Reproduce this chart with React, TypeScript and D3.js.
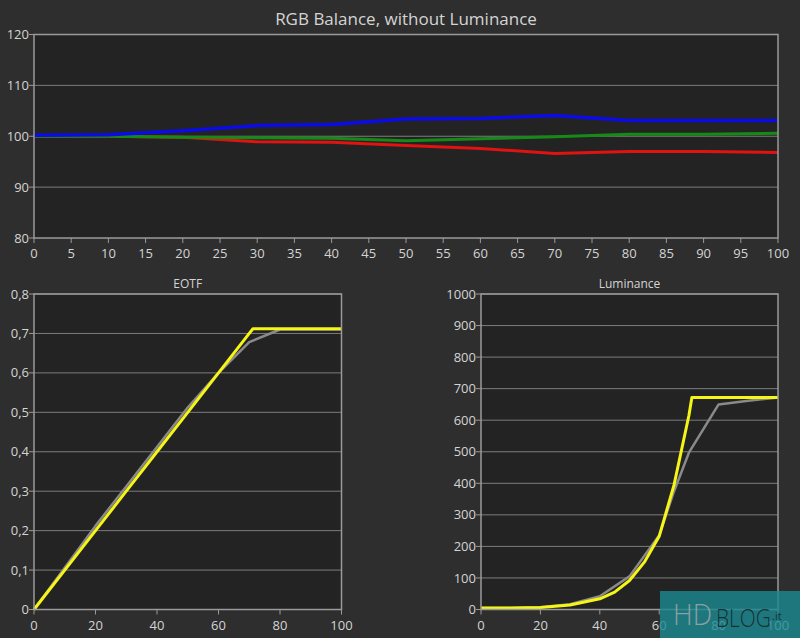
import * as d3 from 'd3'

// RGB balance (input %, value)
const rgbX = [0, 10, 20, 30, 40, 50, 60, 70, 80, 90, 100]
const redVals = [100, 100, 99.8, 98.9, 98.8, 98.2, 97.6, 96.6, 97.0, 97.0, 96.8]
const greenVals = [100, 100, 99.8, 99.7, 99.6, 99.1, 99.5, 99.9, 100.4, 100.4, 100.6]
const blueVals = [100.2, 100.3, 101.1, 102.1, 102.3, 103.4, 103.5, 104.1, 103.1, 103.1, 103.1]

// EOTF
const eotfTargetX = [0, 10, 20, 30, 40, 50, 60, 70, 71.2, 80, 90, 100]
const eotfTargetY = [0, 0.1, 0.2, 0.3, 0.4, 0.5, 0.6, 0.7, 0.712, 0.712, 0.712, 0.712]
const eotfMeasX = [0, 10, 20, 30, 40, 50, 60, 70, 80, 90, 100]
const eotfMeasY = [0, 0.106, 0.212, 0.312, 0.412, 0.512, 0.6, 0.678, 0.71, 0.71, 0.71]

// Luminance (nits)
const lumTargetX = [0, 10, 20, 30, 40, 45, 50, 55, 60, 65, 70, 71, 80, 90, 100]
const lumTargetY = [5, 5, 6, 14, 34, 55, 92, 150, 232, 395, 615, 672, 672, 672, 672]
const lumMeasX = [0, 10, 20, 30, 40, 50, 60, 65, 70, 80, 90, 100]
const lumMeasY = [5, 5, 7, 17, 42, 105, 235, 375, 497, 650, 662, 672]

const topXTicks = d3.range(0, 101, 5)
const topYTicks = [80, 90, 100, 110, 120]
const eotfYTicks = [0, 0.1, 0.2, 0.3, 0.4, 0.5, 0.6, 0.7, 0.8]
const lumYTicks = d3.range(0, 1001, 100)
const lowXTicks = [0, 20, 40, 60, 80, 100]

const FONT = '"Open Sans", "Noto Sans", sans-serif'
const TEXT = '#d4d4d4'
const GRID = '#7c7c7c'
const FRAME = '#9a9a9a'
const PLOT_BG = '#232323'

type Pt = [number, number]
const zip = (xs: number[], ys: number[]): Pt[] => xs.map((x, i) => [x, ys[i]])

function Panel({
  left, right, top, bottom, xTicks, yTicks, yDomain, yFormat, tickSize, series, title, titleY, titleSize, xLabelY,
}: {
  left: number; right: number; top: number; bottom: number
  xTicks: number[]; yTicks: number[]; yDomain: [number, number]
  yFormat: (v: number) => string; tickSize: number
  series: { pts: Pt[]; color: string; width: number }[]
  title: string; titleY: number; titleSize: number; xLabelY: number
}) {
  const x = d3.scaleLinear().domain([0, 100]).range([left, right])
  const y = d3.scaleLinear().domain(yDomain).range([bottom, top])
  const line = d3.line<Pt>().x((d) => x(d[0])).y((d) => y(d[1]))
  return (
    <g fontFamily={FONT}>
      <rect x={left} y={top} width={right - left} height={bottom - top} fill={PLOT_BG} />
      {yTicks.map((t) => (
        <g key={'y' + t}>
          {t !== yDomain[0] && (
            <line x1={left} x2={right} y1={y(t)} y2={y(t)} stroke={GRID} strokeWidth={1} />
          )}
          <line x1={left - 5} x2={left} y1={y(t)} y2={y(t)} stroke={FRAME} />
          <text x={left - 5} y={y(t)} dy="0.35em" textAnchor="end" fill={TEXT} fontSize={tickSize}>
            {yFormat(t)}
          </text>
        </g>
      ))}
      {xTicks.map((t) => (
        <g key={'x' + t}>
          <line x1={x(t)} x2={x(t)} y1={bottom} y2={bottom + 5} stroke={FRAME} />
          <text x={x(t)} y={xLabelY} textAnchor="middle" fill={TEXT} fontSize={tickSize}>
            {t}
          </text>
        </g>
      ))}
      {series.map((s, i) => (
        <path key={i} d={line(s.pts) ?? ''} fill="none" stroke={s.color} strokeWidth={s.width} strokeLinejoin="round" />
      ))}
      <rect x={left} y={top} width={right - left} height={bottom - top} fill="none" stroke={FRAME} strokeWidth={1.5} />
      <text x={(left + right) / 2} y={titleY} textAnchor="middle" fill={TEXT} fontSize={titleSize}>
        {title}
      </text>
    </g>
  )
}

export default function App() {
  const comma = (v: number) => (v === 0 ? '0' : d3.format('.1f')(v).replace('.', ','))
  return (
    <svg width={800} height={638} style={{ position: 'absolute', left: 0, top: 0, background: '#2e2e2e' }}>
      <rect width={800} height={638} fill="#2e2e2e" />
      <Panel
        left={34} right={778} top={34.5} bottom={238}
        xTicks={topXTicks} yTicks={topYTicks} yDomain={[80, 120]}
        yFormat={(v) => String(v)} tickSize={13}
        series={[
          { pts: zip(rgbX, redVals), color: '#e01212', width: 3 },
          { pts: zip(rgbX, greenVals), color: '#168a16', width: 3 },
          { pts: zip(rgbX, blueVals), color: '#0b0be6', width: 3.5 },
        ]}
        title="RGB Balance, without Luminance" titleY={25} titleSize={17} xLabelY={258}
      />
      <Panel
        left={34} right={341.5} top={294} bottom={609.5}
        xTicks={lowXTicks} yTicks={eotfYTicks} yDomain={[0, 0.8]}
        yFormat={comma} tickSize={13}
        series={[
          { pts: zip(eotfMeasX, eotfMeasY), color: '#8a8a8a', width: 2.5 },
          { pts: zip(eotfTargetX, eotfTargetY), color: '#f5f518', width: 3 },
        ]}
        title="EOTF" titleY={288} titleSize={12} xLabelY={630}
      />
      <Panel
        left={481} right={778} top={294} bottom={609.5}
        xTicks={lowXTicks} yTicks={lumYTicks} yDomain={[0, 1000]}
        yFormat={(v) => String(v)} tickSize={13}
        series={[
          { pts: zip(lumMeasX, lumMeasY), color: '#8a8a8a', width: 2.5 },
          { pts: zip(lumTargetX, lumTargetY), color: '#f5f518', width: 3 },
        ]}
        title="Luminance" titleY={288} titleSize={12} xLabelY={630}
      />
      {/* watermark */}
      <g fontFamily={FONT}>
        <rect x={660} y={591} width={140} height={47} fill="rgba(28,138,146,0.8)" />
        <text x={673} y={625} fontSize={30} fontWeight={300} fill="rgba(175,175,175,0.75)"
          textLength={39} lengthAdjust="spacingAndGlyphs">HD</text>
        <text x={716} y={627} fontSize={25} fontWeight={300} fill="rgba(20,35,40,0.85)"
          textLength={55} lengthAdjust="spacingAndGlyphs">BLOG</text>
        <text x={772} y={620} fontSize={11} fill="rgba(20,35,40,0.85)">.it</text>
      </g>
    </svg>
  )
}
